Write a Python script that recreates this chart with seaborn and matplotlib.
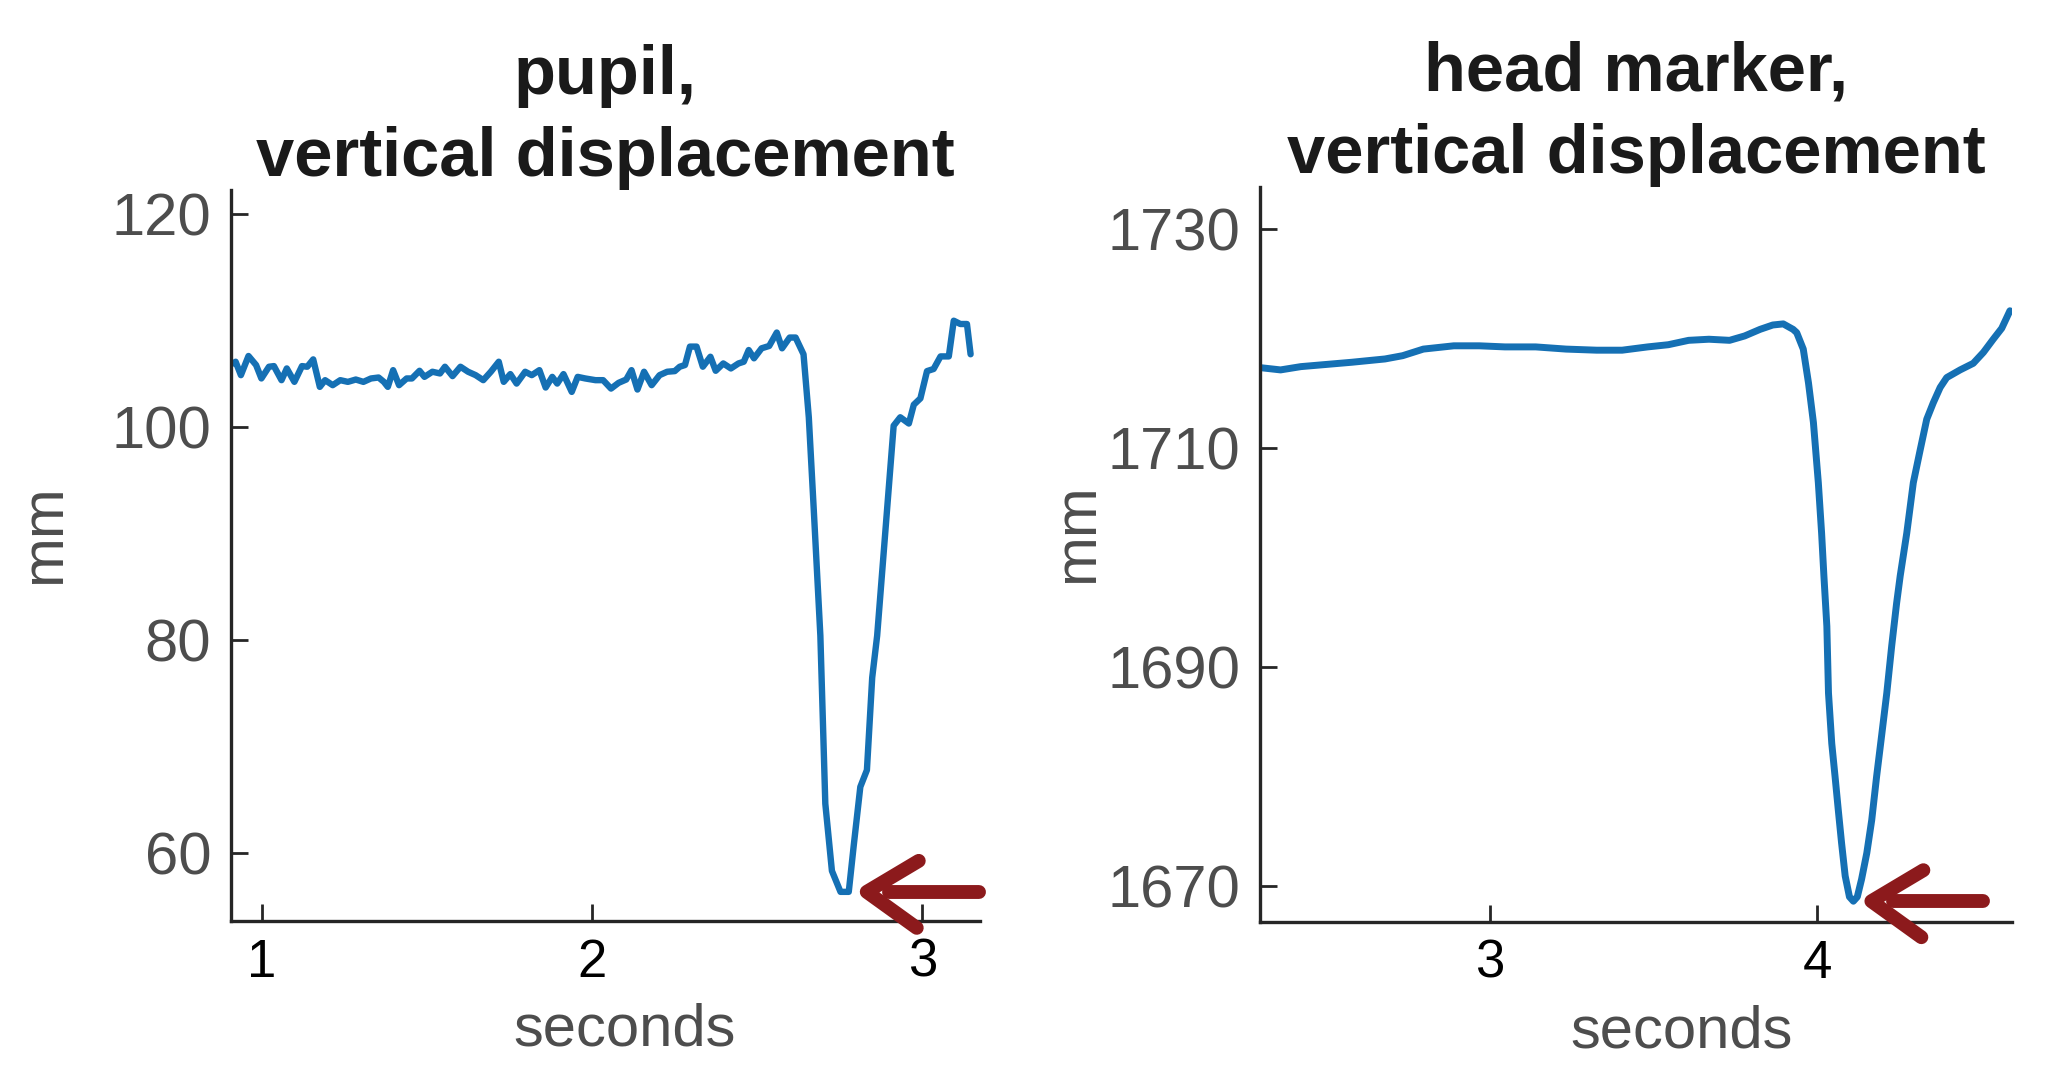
import numpy as np
import pandas as pd
import matplotlib
matplotlib.use("Agg")
import matplotlib.pyplot as plt
from matplotlib.transforms import ScaledTranslation
import seaborn as sns

# ---------------- data ----------------
pupil_t = [0.913, 0.920, 0.936, 0.959, 0.982, 0.998, 1.021, 1.036, 1.059, 1.075,
           1.098, 1.121, 1.137, 1.155, 1.175, 1.191, 1.214, 1.237, 1.260, 1.284,
           1.307, 1.330, 1.353, 1.369, 1.381, 1.397, 1.415, 1.438, 1.454, 1.477,
           1.492, 1.516, 1.539, 1.554, 1.577, 1.601, 1.624, 1.647, 1.670, 1.693,
           1.717, 1.732, 1.752, 1.771, 1.797, 1.817, 1.840, 1.859, 1.879, 1.894,
           1.913, 1.938, 1.956, 1.979, 2.010, 2.033, 2.057, 2.080, 2.103, 2.119,
           2.137, 2.157, 2.180, 2.204, 2.227, 2.250, 2.265, 2.281, 2.296, 2.316,
           2.335, 2.358, 2.374, 2.397, 2.420, 2.443, 2.459, 2.474, 2.490, 2.513,
           2.536, 2.559, 2.575, 2.598, 2.616, 2.640, 2.656, 2.671, 2.691, 2.706,
           2.726, 2.752, 2.777, 2.792, 2.812, 2.832, 2.848, 2.863, 2.883, 2.898,
           2.913, 2.933, 2.959, 2.974, 2.994, 3.014, 3.034, 3.055, 3.080, 3.095,
           3.115, 3.135, 3.146]
pupil_mm = [105.93, 106.09, 104.83, 106.63, 105.78, 104.52, 105.62, 105.68, 104.36, 105.46,
            104.20, 105.68, 105.62, 106.31, 103.73, 104.36, 103.89, 104.36, 104.20, 104.42,
            104.20, 104.52, 104.61, 104.20, 103.73, 105.30, 103.89, 104.52, 104.52, 105.24,
            104.67, 105.15, 104.99, 105.62, 104.74, 105.62, 105.15, 104.83, 104.36, 105.15,
            106.09, 104.20, 104.93, 104.04, 105.15, 104.83, 105.30, 103.67, 104.67, 104.04,
            104.93, 103.26, 104.67, 104.52, 104.36, 104.36, 103.57, 104.11, 104.42, 105.30,
            103.48, 105.15, 103.89, 104.83, 105.15, 105.21, 105.62, 105.78, 107.51, 107.51,
            105.62, 106.56, 105.24, 105.93, 105.46, 105.93, 106.09, 107.19, 106.41, 107.35,
            107.57, 108.83, 107.35, 108.36, 108.36, 106.79, 100.88, 92.21, 80.38, 64.61,
            58.31, 56.34, 56.34, 60.67, 66.19, 67.77, 76.44, 80.38, 88.26, 94.18,
            100.09, 100.88, 100.29, 102.06, 102.65, 105.21, 105.41, 106.59, 106.59, 109.94,
            109.63, 109.63, 106.79]

head_t = [2.302, 2.362, 2.424, 2.502, 2.580, 2.681, 2.735, 2.798, 2.891, 2.969,
          3.047, 3.141, 3.234, 3.327, 3.405, 3.483, 3.546, 3.608, 3.670, 3.733,
          3.779, 3.826, 3.865, 3.897, 3.927, 3.938, 3.958, 3.974, 3.989, 4.004,
          4.014, 4.021, 4.030, 4.035, 4.045, 4.055, 4.065, 4.075, 4.086, 4.099,
          4.111, 4.123, 4.136, 4.152, 4.167, 4.182, 4.198, 4.213, 4.228, 4.243,
          4.254, 4.274, 4.294, 4.315, 4.335, 4.355, 4.376, 4.396, 4.437, 4.477,
          4.508, 4.538, 4.564, 4.589]
head_mm = [1717.3, 1717.1, 1717.4, 1717.6, 1717.8, 1718.1, 1718.4, 1719.0, 1719.3, 1719.3,
           1719.2, 1719.2, 1719.0, 1718.9, 1718.9, 1719.2, 1719.4, 1719.8, 1719.9, 1719.8,
           1720.2, 1720.8, 1721.2, 1721.3, 1720.8, 1720.5, 1719.0, 1715.9, 1712.3, 1706.8,
           1702.2, 1698.3, 1693.7, 1687.6, 1683.0, 1680.0, 1676.9, 1673.9, 1670.9, 1669.0,
           1668.6, 1669.0, 1670.6, 1673.0, 1676.0, 1680.0, 1683.9, 1687.6, 1691.9, 1695.8,
           1698.3, 1702.2, 1706.8, 1709.8, 1712.6, 1714.1, 1715.5, 1716.4, 1717.1, 1717.7,
           1718.7, 1719.9, 1720.9, 1722.5]

titles = ["pupil,\nvertical displacement", "head marker,\nvertical displacement"]
pupil_xticks = [1, 2, 3]
pupil_yticks = [60, 80, 100, 120]
head_xticks = [3, 4]
head_yticks = [1670, 1690, 1710, 1730]

# ---------------- style ----------------
sns.set_style("ticks")
plt.rcParams["font.family"] = ["Liberation Sans", "DejaVu Sans"]

LINE = "#1570b4"
ARROW = "#8c1a1c"
AXCOL = "#262626"
GRAY = "#4d4d4d"

fig = plt.figure(figsize=(20.54, 10.69), dpi=100)
ax1 = fig.add_axes([0.1123, 0.1384, 0.3649, 0.6838])
ax2 = fig.add_axes([0.6134, 0.1375, 0.3661, 0.6876])

df1 = pd.DataFrame({"t": pupil_t, "mm": pupil_mm})
df2 = pd.DataFrame({"t": head_t, "mm": head_mm})

sns.lineplot(data=df1, x="t", y="mm", ax=ax1, color=LINE, lw=4.6,
             estimator=None, sort=False)
sns.lineplot(data=df2, x="t", y="mm", ax=ax2, color=LINE, lw=5.0,
             estimator=None, sort=False)

ax1.set_xlim(0.905, 3.175)
ax1.set_ylim(53.6, 122.2)
ax2.set_xlim(2.299, 4.595)
ax2.set_ylim(1666.7, 1733.8)

for ax, title, xt, yt, xlab_x, ylab_x in [
        (ax1, titles[0], pupil_xticks, pupil_yticks, 0.526, -0.212),
        (ax2, titles[1], head_xticks, head_yticks, 0.561, -0.206)]:
    sns.despine(ax=ax)
    for s in ["left", "bottom"]:
        ax.spines[s].set_linewidth(2.4)
        ax.spines[s].set_color(AXCOL)
    ax.set_xticks(xt)
    ax.set_yticks(yt)
    ax.tick_params(axis="both", direction="in", length=12, width=2.0, color=AXCOL)
    ax.tick_params(axis="y", labelsize=43, labelcolor=GRAY, pad=14)
    ax.tick_params(axis="x", labelsize=38, labelcolor="black", pad=12)
    for lab in ax.get_xticklabels():
        lab.set_fontfamily(["Liberation Sans Narrow", "Liberation Sans", "DejaVu Sans"])
    ax.set_xlabel("seconds", fontsize=43, color=GRAY)
    ax.set_ylabel("mm", fontsize=43, color=GRAY)
    ax.xaxis.set_label_coords(xlab_x, -0.112)
    ax.yaxis.set_label_coords(ylab_x, 0.529)
    ax.set_title(title, fontsize=49.5, fontweight="bold", color="#1a1a1a",
                 pad=2, linespacing=1.36)


def draw_arrow(ax, series_t, series_v):
    v = np.asarray(series_v)
    i = int(np.flatnonzero(v == v.min())[-1])
    trans = fig.dpi_scale_trans + ScaledTranslation(series_t[i], series_v[i], ax.transData)
    kw = dict(color=ARROW, lw=10, solid_capstyle="round", solid_joinstyle="round",
              transform=trans, clip_on=False, zorder=5)
    ax.plot([0.70, 0.18, 0.68], [0.31, 0.0, -0.36], **kw)
    ax.plot([0.40, 1.30], [0.0, 0.0], **kw)


draw_arrow(ax1, pupil_t, pupil_mm)
draw_arrow(ax2, head_t, head_mm)

fig.savefig("out.png", dpi=100)
